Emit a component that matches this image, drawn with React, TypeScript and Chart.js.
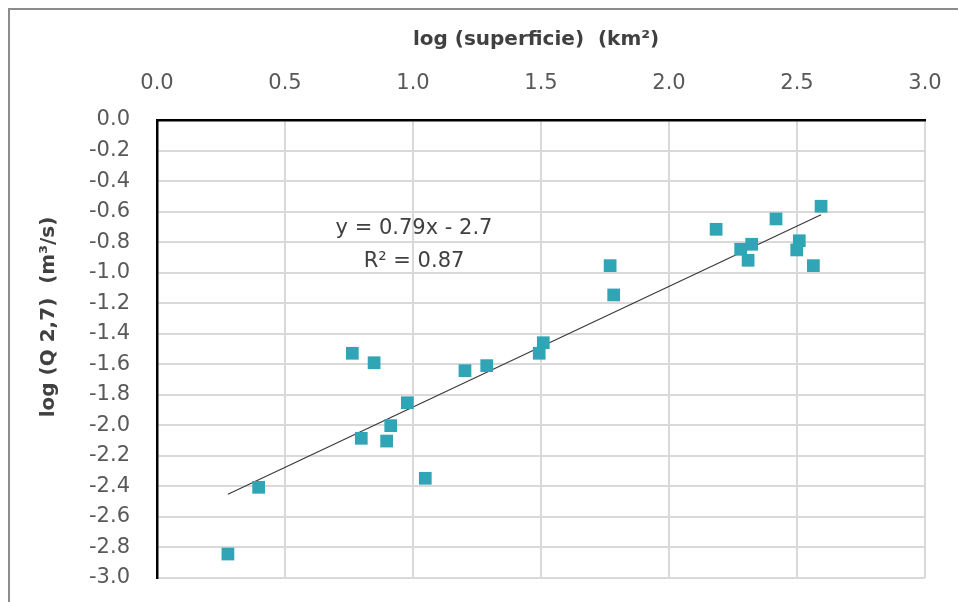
import React, { useEffect, useRef } from "react";
import { Chart, registerables } from "chart.js";

Chart.register(...registerables);

// log(superficie) (km²)
const logArea: number[] = [
  0.277, 0.397, 0.763, 0.848, 1.203, 1.288, 0.978, 0.913, 0.798, 0.897, 1.048, 1.509,
  1.493, 1.770, 1.784, 2.184, 2.280, 2.323, 2.309, 2.418, 2.509, 2.499, 2.564, 2.594,
];
// log(Q 2,7) (m³/s)
const logQ: number[] = [
  -2.843, -2.406, -1.528, -1.590, -1.642, -1.609, -1.852, -2.002, -2.085, -2.103, -2.347, -1.459,
  -1.528, -0.954, -1.146, -0.716, -0.847, -0.814, -0.919, -0.648, -0.791, -0.851, -0.954, -0.565,
];

const TREND_SLOPE = 0.79;
const TREND_INTERCEPT = -2.67;
const EQUATION_TEXT = "y = 0.79x - 2.7";
const R2_TEXT = "R² = 0.87";
const X_TITLE = "log (superficie)  (km²)";
const Y_TITLE = "log (Q 2,7)  (m³/s)";
const X_MIN = 0, X_MAX = 3, X_STEP = 0.5;
const Y_MIN = -3, Y_MAX = 0, Y_STEP = 0.2;

const fmt = (v: number) => {
  const s = Number(v).toFixed(1);
  return s === "-0.0" ? "0.0" : s;
};

const zeroPad = (s: any) => {
  s.paddingLeft = 0;
  s.paddingRight = 0;
  s.paddingTop = 0;
  s.paddingBottom = 0;
};

export default function App() {
  const ref = useRef<HTMLCanvasElement | null>(null);

  useEffect(() => {
    if (!ref.current) return;
    const points = logArea.map((x, i) => ({ x, y: logQ[i] }));
    const xLo = Math.min(...logArea);
    const xHi = Math.max(...logArea);
    const trend = [
      { x: xLo, y: TREND_SLOPE * xLo + TREND_INTERCEPT },
      { x: xHi, y: TREND_SLOPE * xHi + TREND_INTERCEPT },
    ];

    const decor = {
      id: "decor",
      beforeDraw(chart: any) {
        const ctx = chart.ctx;
        ctx.save();
        ctx.fillStyle = "#ffffff";
        ctx.fillRect(0, 0, chart.width, chart.height);
        ctx.strokeStyle = "#8c8c8c";
        ctx.lineWidth = 2;
        ctx.beginPath();
        ctx.moveTo(9, chart.height);
        ctx.lineTo(9, 9);
        ctx.lineTo(chart.width, 9);
        ctx.stroke();
        ctx.restore();
      },
      afterDraw(chart: any) {
        const ctx = chart.ctx;
        const xs = chart.scales.x;
        const ys = chart.scales.y;
        ctx.save();
        ctx.fillStyle = "#404040";
        ctx.textAlign = "center";
        ctx.textBaseline = "middle";
        ctx.font = "bold 20px 'DejaVu Sans'";
        ctx.fillText(X_TITLE, 536, 40);
        ctx.save();
        ctx.translate(49, 317);
        ctx.rotate(-Math.PI / 2);
        ctx.fillText(Y_TITLE, 0, 0);
        ctx.restore();
        ctx.font = "21px 'DejaVu Sans'";
        ctx.fillText(EQUATION_TEXT, xs.getPixelForValue(1.004), ys.getPixelForValue(-0.714));
        ctx.fillText(R2_TEXT, xs.getPixelForValue(1.004), ys.getPixelForValue(-0.93));
        ctx.restore();
      },
    };

    const chart = new Chart(ref.current, {
      type: "scatter",
      data: {
        datasets: [
          {
            type: "line",
            data: trend,
            borderColor: "#3a3a3a",
            borderWidth: 1.2,
            pointRadius: 0,
            fill: false,
            order: 2,
          } as any,
          {
            data: points,
            backgroundColor: "#30a5b5",
            borderWidth: 0,
            pointStyle: "rect",
            pointRadius: 9,
            order: 1,
          },
        ],
      },
      options: {
        animation: false,
        responsive: false,
        devicePixelRatio: 1,
        layout: { padding: { left: 0, top: 0, right: 33, bottom: 24 } },
        plugins: {
          legend: { display: false },
          tooltip: { enabled: false },
          title: { display: false },
        },
        scales: {
          x: {
            type: "linear",
            position: "top",
            min: X_MIN,
            max: X_MAX,
            afterFit: (s: any) => { s.height = 120; zeroPad(s); },
            ticks: {
              stepSize: X_STEP,
              padding: 24,
              maxRotation: 0,
              autoSkip: false,
              color: "#595959",
              font: { family: "'DejaVu Sans'", size: 21 },
              callback: (v: any) => fmt(v),
            },
            grid: { color: "#d9d9d9", lineWidth: 2, drawTicks: false },
            border: { color: "#000000", width: 2.5 },
          },
          y: {
            type: "linear",
            min: Y_MIN,
            max: Y_MAX,
            afterFit: (s: any) => { s.width = 157; zeroPad(s); },
            ticks: {
              stepSize: Y_STEP,
              padding: 27,
              autoSkip: false,
              color: "#595959",
              font: { family: "'DejaVu Sans'", size: 21 },
              callback: (v: any) => fmt(v),
            },
            grid: { color: "#d9d9d9", lineWidth: 2, drawTicks: false },
            border: { color: "#000000", width: 2.5 },
          },
        },
      },
      plugins: [decor],
    } as any);
    return () => chart.destroy();
  }, []);

  return (
    <div style={{ position: "fixed", left: 0, top: 0, width: 958, height: 602, background: "#fff" }}>
      <canvas ref={ref} width={958} height={602} style={{ width: 958, height: 602, display: "block" }} />
    </div>
  );
}
